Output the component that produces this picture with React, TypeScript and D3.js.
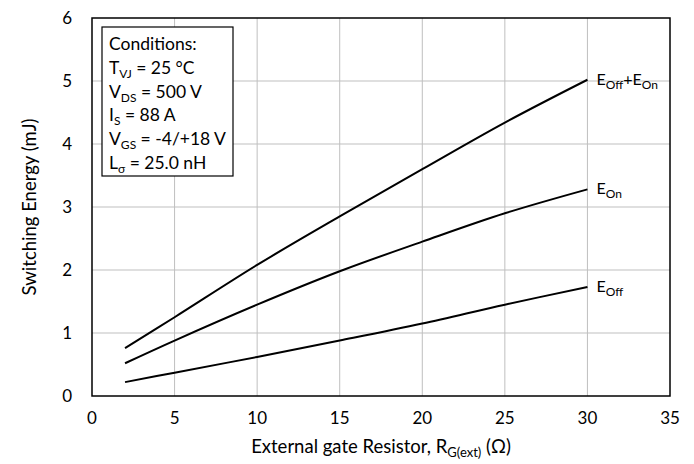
import React from "react";
import * as d3 from "d3";

const rg = [2, 5, 10, 15, 20, 25, 30];
const eOff = [0.22, 0.37, 0.62, 0.88, 1.15, 1.45, 1.73];
const eOn = [0.52, 0.88, 1.45, 1.98, 2.45, 2.9, 3.28];
const eTot = [0.76, 1.25, 2.08, 2.85, 3.6, 4.34, 5.02];
const xTicks = [0, 5, 10, 15, 20, 25, 30, 35];
const yTicks = [0, 1, 2, 3, 4, 5, 6];

const FONT = "Lato, 'Open Sans', sans-serif";

export default function App() {
  const W = 694, H = 464;
  const x = d3.scaleLinear().domain([0, 35]).range([92, 670]);
  const y = d3.scaleLinear().domain([0, 6]).range([396, 18]);
  const line = d3
    .line<number>()
    .x((_, i) => x(rg[i]))
    .y((d) => y(d))
    .curve(d3.curveCatmullRom.alpha(0.5));
  const series = [
    { v: eTot, main: ["E", "Off", "+E", "On"] },
    { v: eOn, main: ["E", "On"] },
    { v: eOff, main: ["E", "Off"] },
  ];
  const cond: [string, string, string][] = [
    ["Conditions:", "", ""],
    ["T", "VJ", " = 25 °C"],
    ["V", "DS", " = 500 V"],
    ["I", "S", " = 88 A"],
    ["V", "GS", " = -4/+18 V"],
    ["L", "σ", " = 25.0 nH"],
  ];
  return (
    <svg width={W} height={H} style={{ position: "absolute", left: 0, top: 0 }} fontFamily={FONT}>
      <rect width={W} height={H} fill="#fff" />
      {xTicks.slice(1, -1).map((t) => (
        <line key={"gx" + t} x1={x(t)} x2={x(t)} y1={y(0)} y2={y(6)} stroke="#bfbfbf" strokeWidth={1} />
      ))}
      {yTicks.slice(1, -1).map((t) => (
        <line key={"gy" + t} x1={x(0)} x2={x(35)} y1={y(t)} y2={y(t)} stroke="#bfbfbf" strokeWidth={1} />
      ))}
      <rect x={x(0)} y={y(6)} width={x(35) - x(0)} height={y(0) - y(6)} fill="none" stroke="#000" strokeWidth={1.5} />
      {xTicks.map((t) => (
        <text key={"xt" + t} x={x(t)} y={y(0) + 28} textAnchor="middle" fontSize={17} fill="#000">
          {t}
        </text>
      ))}
      {yTicks.map((t) => (
        <text key={"yt" + t} x={x(0) - 20} y={y(t) + 6} textAnchor="end" fontSize={17} fill="#000">
          {t}
        </text>
      ))}
      <text transform={`translate(36,${(y(0) + y(6)) / 2}) rotate(-90)`} textAnchor="middle" fontSize={18.5} fill="#000">
        Switching Energy (mJ)
      </text>
      <text x={(x(0) + x(35)) / 2} y={453} textAnchor="middle" fontSize={18.5} fill="#000">
        External gate Resistor, R<tspan fontSize={13} dy={4}>G(ext)</tspan>
        <tspan dy={-4}> (Ω)</tspan>
      </text>
      {series.map((s, i) => (
        <path key={"s" + i} d={line(s.v) || ""} fill="none" stroke="#000" strokeWidth={2} />
      ))}
      {series.map((s, i) => {
        const last = s.v[s.v.length - 1];
        return (
          <text key={"l" + i} x={x(30) + 9} y={y(last) + 5} fontSize={16} fill="#000">
            {s.main.map((p, j) =>
              j % 2 === 0 ? (
                <tspan key={j} dy={j === 0 ? 0 : -4}>{p}</tspan>
              ) : (
                <tspan key={j} fontSize={12} dy={4}>{p}</tspan>
              )
            )}
          </text>
        );
      })}
      <rect x={102} y={27} width={131} height={149} fill="#fff" stroke="#000" strokeWidth={1.2} />
      {cond.map((c, i) => (
        <text key={"c" + i} x={109} y={50 + i * 23.8} fontSize={17.5} fill="#000">
          {c[0]}
          {c[1] && (
            <tspan fontSize={12} dy={4}>
              {c[1]}
            </tspan>
          )}
          {c[1] && <tspan dy={-4}>{c[2]}</tspan>}
        </text>
      ))}
    </svg>
  );
}
